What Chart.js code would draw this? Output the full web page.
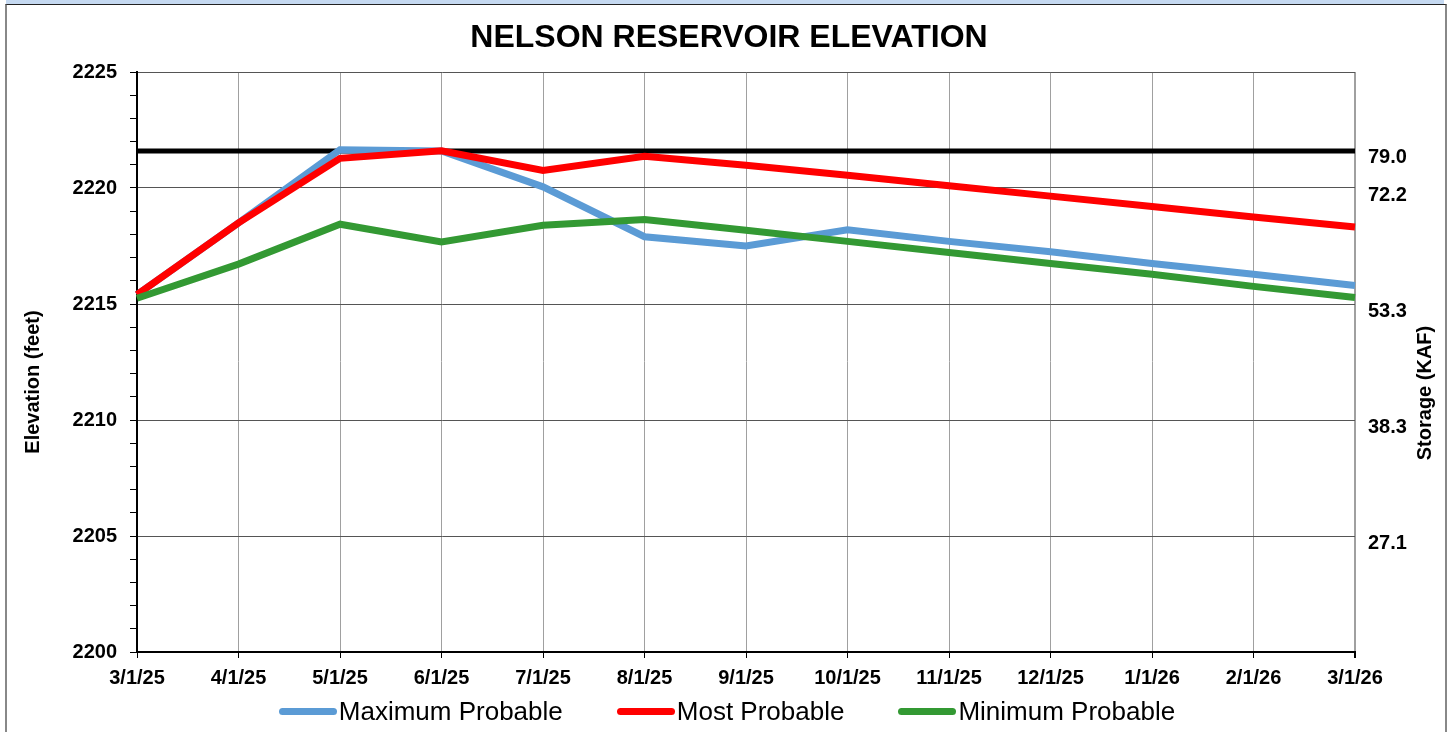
<!DOCTYPE html>
<html>
<head>
<meta charset="utf-8">
<title>Nelson Reservoir Elevation</title>
<script src="https://cdn.jsdelivr.net/npm/chart.js@4.4.1/dist/chart.umd.min.js"></script>
<style>
    html, body { margin: 0; padding: 0; background: #fff; overflow: hidden; }
    #band { position: absolute; left: 6px; top: 0; width: 1438px; height: 4px; background: #c5d9f1; }
    #frame { position: absolute; left: 5px; top: 4px; width: 1438px; height: 740px;
             border-top: 1px solid #222; border-left: 2px solid #888; border-right: 2px solid #888; }
    #wrap { position: absolute; left: 0; top: 0; width: 1452px; height: 732px; }
    #legend { position: absolute; left: 0; top: 696px; width: 1454px; height: 30px;
              display: flex; justify-content: center; align-items: center; gap: 54px;
              font-family: "Liberation Sans", Arial, sans-serif; font-size: 26px; line-height: 30px; color: #000; }
    #legend .item { display: flex; align-items: center; }
    #legend .swatch { display: inline-block; width: 58px; height: 7px; border-radius: 4px; margin-right: 2px; }
</style>
</head>
<body>
<div id="band"></div>
<div id="frame"></div>
<div id="wrap"><canvas id="elevChart"></canvas></div>
<div id="legend"></div>
<script>
// Données
const months = ['3/1/25', '4/1/25', '5/1/25', '6/1/25', '7/1/25', '8/1/25', '9/1/25',
    '10/1/25', '11/1/25', '12/1/25', '1/1/26', '2/1/26', '3/1/26'];

const maxProbable = [2215.4, 2218.5, 2221.65, 2221.6, 2220.05, 2217.9, 2217.5,
    2218.2, 2217.7, 2217.25, 2216.75, 2216.28, 2215.8];
const mostProbable = [2215.4, 2218.5, 2221.28, 2221.6, 2220.76, 2221.37, 2220.98,
    2220.55, 2220.1, 2219.65, 2219.2, 2218.75, 2218.32];
const minProbable = [2215.25, 2216.72, 2218.44, 2217.67, 2218.39, 2218.64, 2218.18,
    2217.7, 2217.22, 2216.75, 2216.28, 2215.76, 2215.28];
const fullPool = [2221.6, 2221.6, 2221.6, 2221.6, 2221.6, 2221.6, 2221.6,
    2221.6, 2221.6, 2221.6, 2221.6, 2221.6, 2221.6];

// Axe de droite : stockage (KAF) pour certaines cotes
const storageElev = [2205, 2210, 2215, 2220, 2221.6];
const storageLabels = ['27.1', '38.3', '53.3', '72.2', '79.0'];

const FONT = '"Liberation Sans", Arial, sans-serif';

// Titres des axes verticaux (tous deux lus de bas en haut)
const axisTitles = {
    id: 'axisTitles',
    afterDraw(chart) {
        const ctx = chart.ctx;
        const mid = (chart.chartArea.top + chart.chartArea.bottom) / 2;
        ctx.save();
        ctx.font = 'bold 20px ' + FONT;
        ctx.fillStyle = '#000';
        ctx.textAlign = 'center';
        ctx.textBaseline = 'middle';
        [['Elevation (feet)', 33, mid + 20], ['Storage (KAF)', 1425, mid + 31]].forEach(t => {
            ctx.save();
            ctx.translate(t[1], t[2]);
            ctx.rotate(-Math.PI / 2);
            ctx.fillText(t[0], 0, 0);
            ctx.restore();
        });
        ctx.restore();
    }
};

function lineSet(label, data, color, width, order) {
    return {
        label: label,
        data: data,
        borderColor: color,
        backgroundColor: color,
        borderWidth: width,
        pointRadius: 0,
        tension: 0,
        fill: false,
        order: order,
        yAxisID: 'y'
    };
}

// Légende HTML (la courbe noire n'y figure pas)
function buildLegend(chart) {
    const box = document.getElementById('legend');
    box.innerHTML = chart.data.datasets
        .filter(ds => ds.label !== 'Full Pool')
        .map(ds => `<span class="item"><span class="swatch" style="background:${ds.borderColor}"></span>${ds.label}</span>`)
        .join('');
}

const ctx = document.getElementById('elevChart').getContext('2d');
const chart = new Chart(ctx, {
    type: 'line',
    data: {
        labels: months,
        datasets: [
            lineSet('Maximum Probable', maxProbable, '#5b9bd5', 7, 3),
            lineSet('Most Probable', mostProbable, '#ff0000', 7, 2),
            lineSet('Minimum Probable', minProbable, '#339933', 7, 1),
            lineSet('Full Pool', fullPool, '#000000', 5, 4)
        ]
    },
    options: {
        responsive: true,
        maintainAspectRatio: false,
        animation: false,
        layout: { padding: { left: 6, right: 0, top: 0, bottom: 42 } },
        plugins: {
            title: {
                display: true,
                text: 'NELSON RESERVOIR ELEVATION',
                color: '#000',
                font: { family: FONT, size: 32, weight: 'bold' },
                padding: { top: 18.8, bottom: 14.8 }
            },
            legend: { display: false },
            tooltip: { enabled: false }
        },
        scales: {
            x: {
                type: 'category',
                offset: false,
                afterFit: scale => { scale.height = 38; },
                grid: {
                    color: '#a0a0a0',
                    lineWidth: c => (c.index === months.length - 1 ? 2 : 1),
                    tickColor: '#000',
                    tickLength: 6
                },
                border: { color: '#000', width: 2 },
                ticks: {
                    color: '#000',
                    font: { family: FONT, size: 20, weight: 'bold' },
                    padding: 8,
                    maxRotation: 0,
                    autoSkip: false
                }
            },
            y: {
                position: 'left',
                min: 2200,
                max: 2225,
                afterFit: scale => { scale.width = 131; },
                grid: {
                    color: c => (c.tick && c.tick.value % 5 === 0 ? '#555' : 'rgba(0,0,0,0)'),
                    tickColor: '#000',
                    tickLength: 7
                },
                border: { color: '#000', width: 2 },
                ticks: {
                    stepSize: 1,
                    autoSkip: false,
                    color: '#000',
                    padding: 13,
                    font: { family: FONT, size: 20, weight: 'bold' },
                    callback: v => (v % 5 === 0 ? v : '')
                }
            },
            storage: {
                position: 'right',
                min: 2200,
                max: 2225,
                afterFit: scale => { scale.width = 97; },
                afterBuildTicks: scale => {
                    scale.ticks = storageElev.map(v => ({ value: v }));
                },
                grid: { display: false, drawTicks: false },
                border: { display: false },
                ticks: {
                    autoSkip: false,
                    color: '#000',
                    padding: 13,
                    labelOffset: 7,
                    font: { family: FONT, size: 20, weight: 'bold' },
                    callback: v => storageLabels[storageElev.indexOf(v)]
                }
            }
        }
    },
    plugins: [axisTitles]
});
buildLegend(chart);
</script>
</body>
</html>
